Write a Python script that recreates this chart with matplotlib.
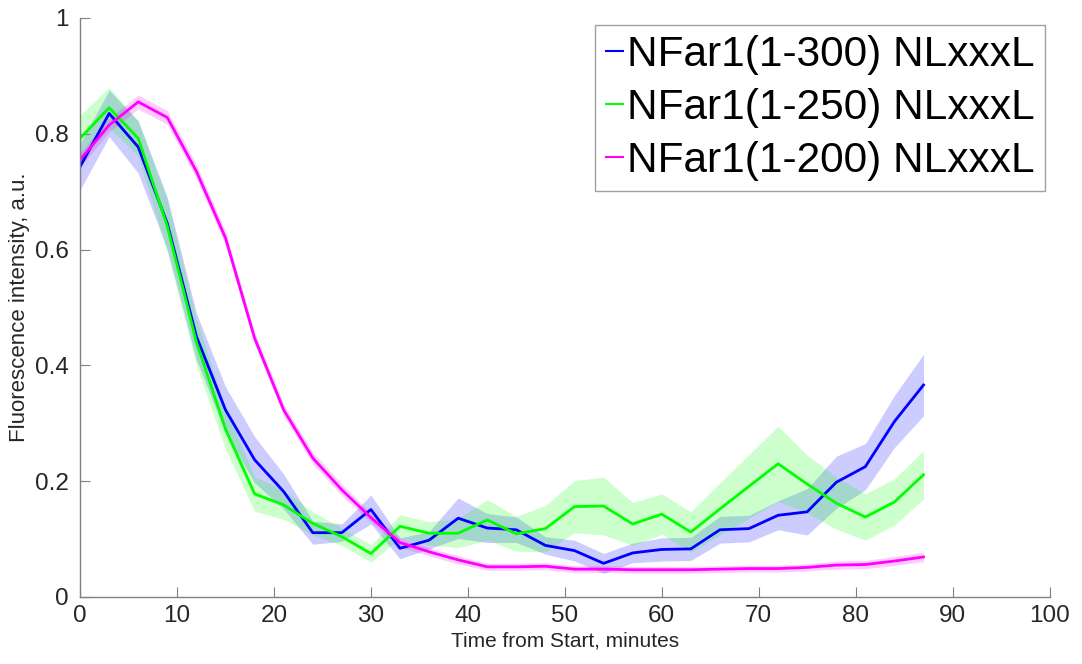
import matplotlib.pyplot as plt
import numpy as np

# time points (minutes)
time_min = list(range(0, 90, 3))

labels = ["NFar1(1-300) NLxxxL", "NFar1(1-250) NLxxxL", "NFar1(1-200) NLxxxL"]
colors = ["#0000ff", "#00ff00", "#ff00ff"]

mean_300 = [0.743, 0.835, 0.777, 0.645, 0.450, 0.323, 0.237, 0.182, 0.111, 0.111,
            0.151, 0.084, 0.098, 0.136, 0.119, 0.116, 0.089, 0.080, 0.058, 0.076,
            0.082, 0.083, 0.116, 0.118, 0.141, 0.147, 0.198, 0.225, 0.303, 0.366]
sem_300 = [0.040, 0.040, 0.045, 0.045, 0.040, 0.040, 0.040, 0.030, 0.020, 0.015,
           0.025, 0.018, 0.015, 0.035, 0.025, 0.022, 0.015, 0.018, 0.017, 0.017,
           0.020, 0.020, 0.023, 0.023, 0.025, 0.040, 0.045, 0.040, 0.045, 0.053]

mean_250 = [0.792, 0.845, 0.792, 0.640, 0.440, 0.290, 0.178, 0.159, 0.127, 0.104,
            0.075, 0.122, 0.110, 0.110, 0.133, 0.109, 0.118, 0.156, 0.157, 0.126,
            0.143, 0.112, 0.152, 0.191, 0.230, 0.195, 0.162, 0.138, 0.164, 0.211]
sem_250 = [0.040, 0.035, 0.030, 0.045, 0.040, 0.035, 0.030, 0.025, 0.020, 0.015,
           0.015, 0.020, 0.020, 0.025, 0.035, 0.030, 0.040, 0.045, 0.050, 0.037,
           0.035, 0.035, 0.045, 0.055, 0.065, 0.050, 0.045, 0.040, 0.040, 0.042]

mean_200 = [0.755, 0.815, 0.855, 0.828, 0.735, 0.620, 0.447, 0.323, 0.240, 0.185,
            0.137, 0.094, 0.078, 0.064, 0.052, 0.052, 0.053, 0.048, 0.048, 0.047,
            0.047, 0.047, 0.048, 0.049, 0.049, 0.051, 0.055, 0.056, 0.062, 0.069]
sem_200 = [0.012, 0.012, 0.012, 0.012, 0.012, 0.012, 0.010, 0.010, 0.010, 0.010,
           0.008, 0.008, 0.007, 0.007, 0.006, 0.006, 0.006, 0.006, 0.006, 0.006,
           0.006, 0.006, 0.006, 0.006, 0.006, 0.006, 0.007, 0.007, 0.008, 0.008]

plt.rcParams["font.family"] = ["Liberation Sans", "DejaVu Sans"]

fig = plt.figure(figsize=(10.82, 6.64), dpi=100)
ax = fig.add_axes([0.074, 0.101, 0.896, 0.872])

t = np.array(time_min)
series = [(mean_300, sem_300), (mean_250, sem_250), (mean_200, sem_200)]
handles = []
for (m, s), c, lab in zip(series, colors, labels):
    m = np.array(m)
    s = np.array(s)
    ax.fill_between(t, m - s, m + s, color=c, alpha=0.2, lw=0)
    h, = ax.plot(t, m, color=c, lw=2.0, label=lab)
    handles.append(h)

ax.set_xlim(0, 100)
ax.set_ylim(0, 1)
ax.set_xticks(range(0, 101, 10))
ax.set_yticks([0, 0.2, 0.4, 0.6, 0.8, 1])
ax.set_yticklabels(["0", "0.2", "0.4", "0.6", "0.8", "1"])

for side in ["top", "right"]:
    ax.spines[side].set_visible(False)
for side in ["left", "bottom"]:
    ax.spines[side].set_color("#808080")
    ax.spines[side].set_linewidth(1.0)
ax.tick_params(direction="in", length=7, color="#808080", labelsize=17.5,
               labelcolor="#262626")
ax.tick_params(axis="x", pad=6)
ax.tick_params(axis="y", pad=8)

ax.set_xlabel("Time from Start, minutes", fontsize=15, color="#262626", labelpad=3)
ax.set_ylabel("Fluorescence intensity, a.u.", fontsize=16, color="#262626", labelpad=4)

leg = ax.legend(handles=handles, loc="upper right", bbox_to_anchor=(0.966, 0.963),
                bbox_transform=fig.transFigure, fontsize=30.5, frameon=True,
                fancybox=False, edgecolor="#a0a0a0", framealpha=1,
                handlelength=0.4, handletextpad=0.1, borderpad=0.25,
                labelspacing=0.3, borderaxespad=0)
leg.get_frame().set_linewidth(1.0)
for line in leg.get_lines():
    line.set_linewidth(1.5)

fig.savefig("out.png", dpi=100)
